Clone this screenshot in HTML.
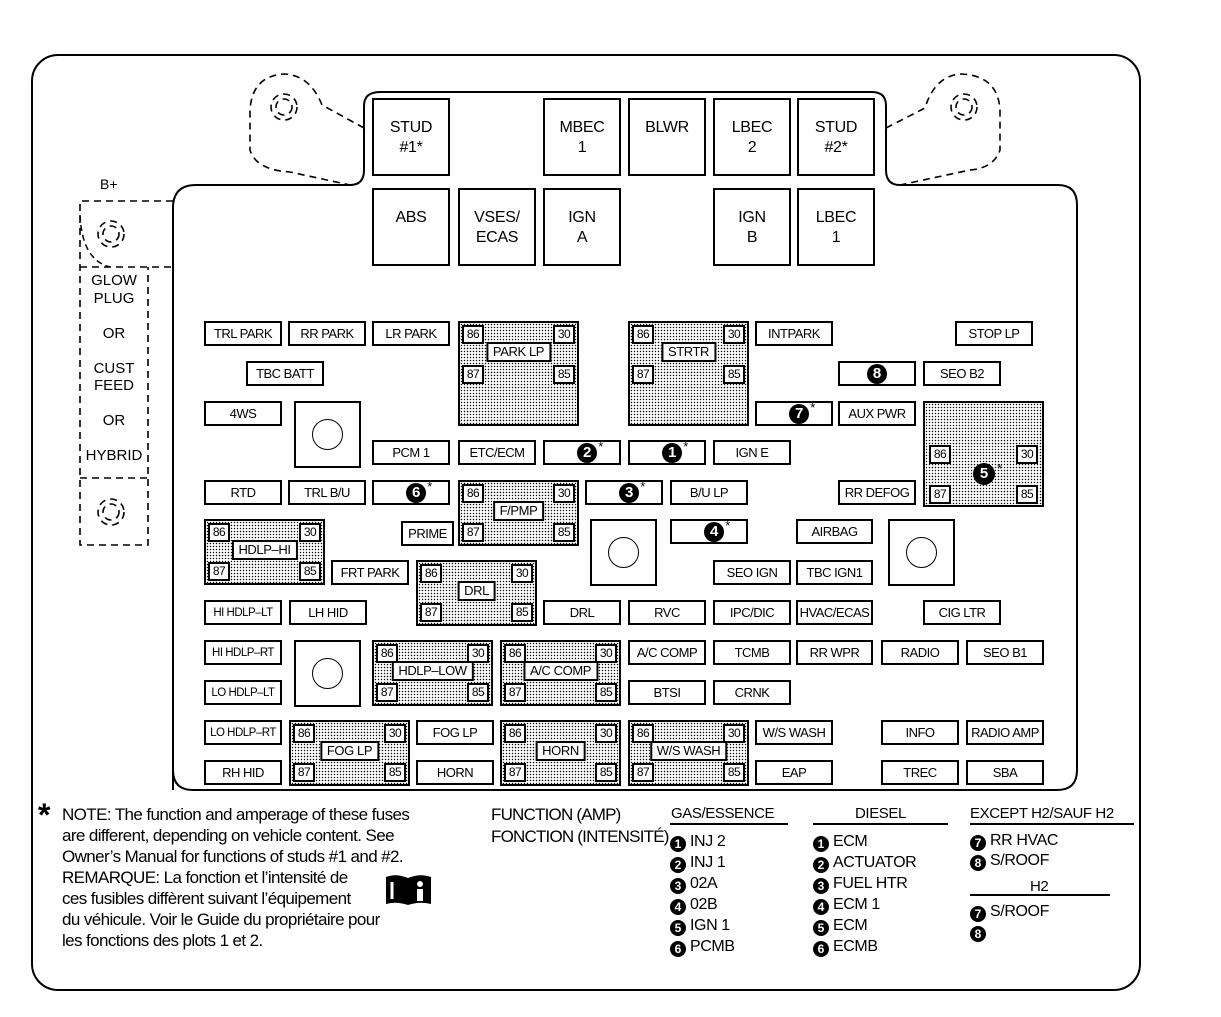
<!DOCTYPE html>
<html><head><meta charset="utf-8"><style>
body{margin:0;width:1221px;height:1017px;background:#fff;position:relative;overflow:hidden;font-family:"Liberation Sans","DejaVu Sans",sans-serif;color:#000}
.f,.b,.r,.sq{position:absolute;box-sizing:border-box;border:2px solid #000;background:#fff}
.f{display:flex;align-items:center;justify-content:center;font-size:13px;letter-spacing:-0.5px;white-space:nowrap;height:25px;width:78px}
.b{width:78px;height:78px;text-align:center;font-size:16px;line-height:20px;padding-top:18px;letter-spacing:-0.3px}
.r{width:121px;height:66px;background-color:#fff;background-image:radial-gradient(circle,#000 0.55px,transparent 0.9px);background-size:3px 3px}
.r .p{position:absolute;width:22px;height:19px;border:2px solid #000;background:#fff;box-sizing:border-box;font-size:12px;line-height:15px;text-align:center;letter-spacing:-0.5px}
.r .tl{left:2px;top:2px}.r .tr{right:2px;top:2px}.r .bl{left:2px;bottom:2px}.r .br{right:2px;bottom:2px}
.r .lb{position:absolute;top:19px;left:50%;transform:translateX(-50%);height:20px;border:2px solid #000;background:#fff;box-sizing:border-box;font-size:13px;line-height:16px;padding:0 5px;white-space:nowrap;letter-spacing:-0.4px}
.sq{width:67px;height:67px}
.sq::after{content:"";position:absolute;left:16px;top:16px;width:31px;height:31px;border:1.5px solid #000;border-radius:50%;box-sizing:border-box}
.cn{display:inline-block;width:20px;height:20px;border-radius:50%;background:#000;color:#fff;font-weight:bold;font-size:15px;line-height:20px;text-align:center;vertical-align:middle;letter-spacing:0}
.n{position:relative;left:8px;display:flex;align-items:flex-start}
.n sup{font-size:13px;position:relative;top:-4px;margin-left:1px}
.t{position:absolute;white-space:nowrap}
.leg{font-size:16px;line-height:21px;letter-spacing:-0.4px}
.leg .cn{width:16px;height:16px;font-size:12px;line-height:16px;margin-right:4px;vertical-align:-2px}
</style></head><body>
<svg width="1221" height="1017" style="position:absolute;left:0;top:0">
<rect x="32" y="55" width="1108" height="935" rx="26" fill="none" stroke="#000" stroke-width="2"/>
<path d="M173,790 L173,208 Q173,185 196,185 L350,185 Q364,185 364,170 L364,106 Q364,92 380,92 L872,92 Q886,92 886,106 L886,170 Q886,185 900,185 L1058,185 Q1077,185 1077,205 L1077,770 Q1077,790 1057,790 L193,790 Q173,790 173,770 Z" fill="none" stroke="#000" stroke-width="2"/>
<g fill="none" stroke="#000" stroke-width="1.6" stroke-dasharray="7,5">
<path d="M364,128 L322,105 Q310,75 284,74 Q252,76 250,110 L250,150 Q256,170 290,172 L350,185"/>
<circle cx="284" cy="107" r="13"/><circle cx="284" cy="107" r="8"/>
<path d="M886,128 L925,108 Q935,75 962,74 Q998,76 1000,110 L1000,150 Q994,168 970,170 L900,185"/>
<circle cx="964" cy="107" r="13"/><circle cx="964" cy="107" r="8"/>
<path d="M173,201 L80,201 L80,545 L148,545 L148,267 M80,267 L173,267 M80,478 L148,478"/>
<circle cx="111" cy="234" r="13"/><circle cx="111" cy="234" r="8"/>
<circle cx="111" cy="512" r="13"/><circle cx="111" cy="512" r="8"/>
</g>
<path d="M80,215 Q82,260 110,267" fill="none" stroke="#000" stroke-width="1.5" stroke-dasharray="6,4"/>
</svg>

<div class="t" style="left:100px;top:176px;font-size:14px">B+</div>
<div class="t" style="left:80px;top:272px;width:68px;text-align:center;font-size:15px;line-height:17.5px">GLOW<br>PLUG<br><br>OR<br><br>CUST<br>FEED<br><br>OR<br><br>HYBRID</div>

<div class="b" style="left:372px;top:98px">STUD<br>#1*</div>
<div class="b" style="left:543px;top:98px">MBEC<br>1</div>
<div class="b" style="left:628px;top:98px">BLWR</div>
<div class="b" style="left:713px;top:98px">LBEC<br>2</div>
<div class="b" style="left:797px;top:98px">STUD<br>#2*</div>
<div class="b" style="left:372px;top:188px">ABS</div>
<div class="b" style="left:458px;top:188px">VSES/<br>ECAS</div>
<div class="b" style="left:543px;top:188px">IGN<br>A</div>
<div class="b" style="left:713px;top:188px">IGN<br>B</div>
<div class="b" style="left:797px;top:188px">LBEC<br>1</div>

<div class="f" style="left:204px;top:321px">TRL PARK</div>
<div class="f" style="left:288px;top:321px">RR PARK</div>
<div class="f" style="left:372px;top:321px">LR PARK</div>
<div class="f" style="left:755px;top:321px">INTPARK</div>
<div class="f" style="left:955px;top:321px">STOP LP</div>
<div class="f" style="left:246px;top:361px">TBC BATT</div>
<div class="f" style="left:838px;top:361px"><span class="cn">8</span></div>
<div class="f" style="left:923px;top:361px">SEO B2</div>
<div class="f" style="left:204px;top:401px">4WS</div>
<div class="sq" style="left:294px;top:401px"></div>
<div class="f" style="left:755px;top:401px"><span class="n"><span class="cn">7</span><sup>*</sup></span></div>
<div class="f" style="left:838px;top:401px">AUX PWR</div>
<div class="f" style="left:372px;top:440px">PCM 1</div>
<div class="f" style="left:458px;top:440px">ETC/ECM</div>
<div class="f" style="left:543px;top:440px"><span class="n"><span class="cn">2</span><sup>*</sup></span></div>
<div class="f" style="left:628px;top:440px"><span class="n"><span class="cn">1</span><sup>*</sup></span></div>
<div class="f" style="left:713px;top:440px">IGN E</div>
<div class="f" style="left:204px;top:480px">RTD</div>
<div class="f" style="left:288px;top:480px">TRL B/U</div>
<div class="f" style="left:372px;top:480px"><span class="n"><span class="cn">6</span><sup>*</sup></span></div>
<div class="f" style="left:585px;top:480px"><span class="n"><span class="cn">3</span><sup>*</sup></span></div>
<div class="f" style="left:670px;top:480px">B/U LP</div>
<div class="f" style="left:838px;top:480px">RR DEFOG</div>
<div class="f" style="left:401px;top:521px;width:53px">PRIME</div>
<div class="f" style="left:670px;top:519px"><span class="n"><span class="cn">4</span><sup>*</sup></span></div>
<div class="f" style="left:796px;top:519px;width:77px">AIRBAG</div>
<div class="sq" style="left:590px;top:519px"></div>
<div class="sq" style="left:888px;top:519px"></div>
<div class="f" style="left:331px;top:560px">FRT PARK</div>
<div class="f" style="left:713px;top:560px">SEO IGN</div>
<div class="f" style="left:796px;top:560px;width:77px">TBC IGN1</div>
<div class="f" style="left:204px;top:600px;font-size:11.5px">HI HDLP–LT</div>
<div class="f" style="left:289px;top:600px">LH HID</div>
<div class="f" style="left:543px;top:600px">DRL</div>
<div class="f" style="left:628px;top:600px">RVC</div>
<div class="f" style="left:713px;top:600px">IPC/DIC</div>
<div class="f" style="left:796px;top:600px;width:77px">HVAC/ECAS</div>
<div class="f" style="left:923px;top:600px">CIG LTR</div>
<div class="f" style="left:204px;top:640px;font-size:11.5px">HI HDLP–RT</div>
<div class="sq" style="left:294px;top:640px"></div>
<div class="f" style="left:628px;top:640px">A/C COMP</div>
<div class="f" style="left:713px;top:640px">TCMB</div>
<div class="f" style="left:796px;top:640px;width:77px">RR WPR</div>
<div class="f" style="left:881px;top:640px">RADIO</div>
<div class="f" style="left:966px;top:640px">SEO B1</div>
<div class="f" style="left:204px;top:680px;font-size:11.5px">LO HDLP–LT</div>
<div class="f" style="left:628px;top:680px">BTSI</div>
<div class="f" style="left:713px;top:680px">CRNK</div>
<div class="f" style="left:204px;top:720px;font-size:11.5px">LO HDLP–RT</div>
<div class="f" style="left:416px;top:720px">FOG LP</div>
<div class="f" style="left:755px;top:720px">W/S WASH</div>
<div class="f" style="left:881px;top:720px">INFO</div>
<div class="f" style="left:966px;top:720px">RADIO AMP</div>
<div class="f" style="left:204px;top:760px">RH HID</div>
<div class="f" style="left:416px;top:760px">HORN</div>
<div class="f" style="left:755px;top:760px">EAP</div>
<div class="f" style="left:881px;top:760px">TREC</div>
<div class="f" style="left:966px;top:760px">SBA</div>

<div class="r" style="left:458px;top:321px;height:105px"><div class="p tl">86</div><div class="p tr">30</div><div class="lb">PARK LP</div><div class="p bl" style="top:42px">87</div><div class="p br" style="top:42px">85</div></div>
<div class="r" style="left:628px;top:321px;height:105px"><div class="p tl">86</div><div class="p tr">30</div><div class="lb">STRTR</div><div class="p bl" style="top:42px">87</div><div class="p br" style="top:42px">85</div></div>
<div class="r" style="left:923px;top:401px;height:106px"><div class="p" style="left:4px;top:42px">86</div><div class="p" style="right:4px;top:42px">30</div><div class="p" style="left:4px;top:82px">87</div><div class="p" style="right:4px;top:82px">85</div><span class="cn" style="position:absolute;left:48px;top:60px;width:22px;height:22px;line-height:22px">5</span><div style="position:absolute;left:72px;top:58px;font-size:13px">*</div></div>
<div class="r" style="left:458px;top:480px"><div class="p tl">86</div><div class="p tr">30</div><div class="lb">F/PMP</div><div class="p bl">87</div><div class="p br">85</div></div>
<div class="r" style="left:204px;top:519px"><div class="p tl">86</div><div class="p tr">30</div><div class="lb">HDLP–HI</div><div class="p bl">87</div><div class="p br">85</div></div>
<div class="r" style="left:416px;top:560px"><div class="p tl">86</div><div class="p tr">30</div><div class="lb">DRL</div><div class="p bl">87</div><div class="p br">85</div></div>
<div class="r" style="left:372px;top:640px"><div class="p tl">86</div><div class="p tr">30</div><div class="lb">HDLP–LOW</div><div class="p bl">87</div><div class="p br">85</div></div>
<div class="r" style="left:500px;top:640px"><div class="p tl">86</div><div class="p tr">30</div><div class="lb">A/C COMP</div><div class="p bl">87</div><div class="p br">85</div></div>
<div class="r" style="left:289px;top:720px"><div class="p tl">86</div><div class="p tr">30</div><div class="lb">FOG LP</div><div class="p bl">87</div><div class="p br">85</div></div>
<div class="r" style="left:500px;top:720px"><div class="p tl">86</div><div class="p tr">30</div><div class="lb">HORN</div><div class="p bl">87</div><div class="p br">85</div></div>
<div class="r" style="left:628px;top:720px"><div class="p tl">86</div><div class="p tr">30</div><div class="lb">W/S WASH</div><div class="p bl">87</div><div class="p br">85</div></div>

<div class="t" style="left:38px;top:798px;font-size:32px;line-height:34px;font-weight:bold">*</div>
<div class="t leg" style="left:62px;top:804px;font-size:17px;line-height:21px;letter-spacing:-0.6px">NOTE: The function and amperage of these fuses<br>are different, depending on vehicle content. See<br>Owner’s Manual for functions of studs #1 and #2.<br>REMARQUE: La fonction et l’intensité de<br>ces fusibles diffèrent suivant l’équipement<br>du véhicule. Voir le Guide du propriétaire pour<br>les fonctions des plots 1 et 2.</div>
<svg width="50" height="34" style="position:absolute;left:384px;top:873px"><path d="M2,4 Q12,0 24,5 L24,32 Q12,28 2,31 Z M24,5 Q36,0 47,4 L47,31 Q36,28 24,32 Z" fill="#000"/><circle cx="36" cy="11" r="3" fill="#fff"/><rect x="33" y="16" width="6" height="12" fill="#fff"/><path d="M8,9 L8,26" stroke="#fff" stroke-width="3"/></svg>

<div class="t leg" style="left:491px;top:804px;font-size:17px;line-height:22px;letter-spacing:-0.8px">FUNCTION (AMP)<br>FONCTION (INTENSITÉ)</div>
<div class="t leg" style="left:671px;top:803px;font-size:15px">GAS/ESSENCE</div>
<div style="position:absolute;left:670px;top:823px;width:118px;border-top:2px solid #000"></div>
<div class="t leg" style="left:670px;top:831px"><span class="cn">1</span>INJ 2<br><span class="cn">2</span>INJ 1<br><span class="cn">3</span>02A<br><span class="cn">4</span>02B<br><span class="cn">5</span>IGN 1<br><span class="cn">6</span>PCMB</div>
<div class="t leg" style="left:855px;top:803px;font-size:15px">DIESEL</div>
<div style="position:absolute;left:813px;top:823px;width:135px;border-top:2px solid #000"></div>
<div class="t leg" style="left:813px;top:831px"><span class="cn">1</span>ECM<br><span class="cn">2</span>ACTUATOR<br><span class="cn">3</span>FUEL HTR<br><span class="cn">4</span>ECM 1<br><span class="cn">5</span>ECM<br><span class="cn">6</span>ECMB</div>
<div class="t leg" style="left:970px;top:803px;font-size:15px">EXCEPT H2/SAUF H2</div>
<div style="position:absolute;left:970px;top:823px;width:164px;border-top:2px solid #000"></div>
<div class="t leg" style="left:970px;top:831px;line-height:19px"><span class="cn">7</span>RR HVAC<br><span class="cn">8</span>S/ROOF</div>
<div class="t leg" style="left:1030px;top:876px;font-size:15px">H2</div>
<div style="position:absolute;left:970px;top:894px;width:140px;border-top:2px solid #000"></div>
<div class="t leg" style="left:970px;top:902px;line-height:19px"><span class="cn">7</span>S/ROOF<br><span class="cn">8</span></div>
</body></html>
